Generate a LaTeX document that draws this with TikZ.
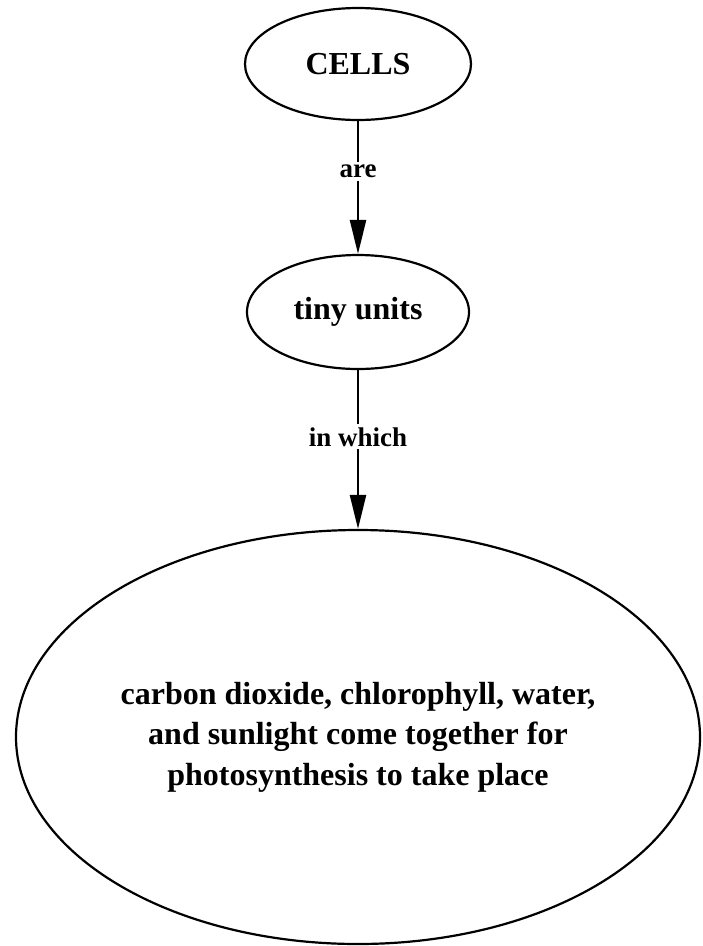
\documentclass[tikz,border=0pt]{standalone}
\usepackage{fontspec}
\setmainfont{Liberation Serif}
\usetikzlibrary{shapes.geometric,arrows.meta}
\begin{document}
\begin{tikzpicture}[x=1pt,y=-1pt,
  concept/.style={ellipse,draw,line width=2.2pt,inner sep=0pt,
    font=\bfseries\fontsize{32}{40.5}\selectfont,align=center},
  linkword/.style={fill=white,inner sep=3pt,font=\bfseries\fontsize{27}{32}\selectfont},
  link/.style={line width=2.6pt,-{Triangle[length=34pt,width=16pt]}}]
  \useasboundingbox (0,0) rectangle (703,946);
  \node[concept,minimum width=226pt,minimum height=112pt] (cells) at (358,64) {CELLS};
  \node[concept,minimum width=222pt,minimum height=114pt] (tiny) at (358,312) {tiny units};
  \node[concept,minimum width=684pt,minimum height=414pt] (photo) at (358,737)
    {carbon dioxide, chlorophyll, water,\\and sunlight come together for\\photosynthesis to take place};
  \draw[link] (cells) -- node[linkword,pos=0.38] {are} (tiny);
  \draw[link] (tiny) -- node[linkword,pos=0.42] {in which} (photo);
\end{tikzpicture}
\end{document}
